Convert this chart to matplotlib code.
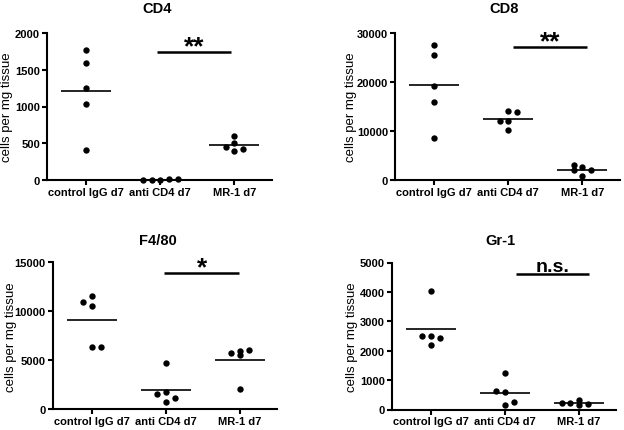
import numpy as np
import matplotlib
matplotlib.use("Agg")
import matplotlib.pyplot as plt

plt.rcParams['font.family'] = ['Liberation Sans', 'DejaVu Sans']

# ---------------- data ----------------
categories = ['control IgG d7', 'anti CD4 d7', 'MR-1 d7']

cd4_control = [1770, 1590, 1245, 1035, 405]
cd4_anti = [6, 3, 10, 4, 8]
cd4_mr1 = [595, 395, 450, 420, 500]

cd8_control = [27540, 25600, 19260, 15980, 8550]
cd8_anti = [14140, 12090, 12090, 13810, 10120]
cd8_mr1 = [2660, 2960, 2050, 2050, 760]

f480_control = [11590, 10530, 10910, 6370, 6370]
f480_anti = [4700, 1740, 740, 1530, 1160]
f480_mr1 = [2110, 5490, 5960, 5760, 6070]

gr1_control = [4020, 2510, 2510, 2440, 2210]
gr1_anti = [1235, 590, 625, 160, 260]
gr1_mr1 = [160, 215, 195, 230, 340]

titles = ['CD4', 'CD8', 'F4/80', 'Gr-1']
y_max = [2000, 30000, 15000, 5000]
y_step = [500, 10000, 5000, 1000]
sig_labels = ['**', '**', '*', 'n.s.']
sig_y = [1745, 27130, 13870, 4606]

# ---------------- layout ----------------
W, H = 624, 431
AX_W, AX_H = 224.5, 147.0
XLIM = (-0.53, 2.5)
# left, top (pixels)
ax_pos = [(47, 34), (395, 34), (52.5, 263.3), (391.7, 263.5)]
title_x = [0.49, 0.484, 0.469, 0.483]
title_pad = [14.9, 14.9, 13.2, 13.2]
ylabel_x = [-0.15, -0.168, -0.16, -0.148]
sig_span = [(0.957, 1.955), (1.065, 2.06), (0.98, 1.99), (1.148, 2.135)]
sig_off = [-1.0, -1.0, -1.0, 2.0]
sig_size = [19, 19, 19, 14]

STEP = 0.118       # horizontal spread step (category units)
THR_PX = 4.35      # vertical closeness (px) that forces spreading
HALF = 0.337       # half width of mean line


def swarm_offsets(values, thr):
    placed = []
    slots = []
    toggle = 0
    for v in values:
        k = 0
        chosen = None
        while chosen is None:
            if k == 0:
                cands = [0]
            else:
                cands = [-k, k] if toggle == 0 else [k, -k]
            for s in cands:
                if all(abs(v - pv) >= thr for ps, pv in placed if ps == s):
                    chosen = s
                    break
            k += 1
        if chosen != 0:
            toggle ^= 1
        placed.append((chosen, v))
        slots.append(chosen)
    return np.array(slots) * STEP


groups = [
    [cd4_control, cd4_anti, cd4_mr1],
    [cd8_control, cd8_anti, cd8_mr1],
    [f480_control, f480_anti, f480_mr1],
    [gr1_control, gr1_anti, gr1_mr1],
]

fig = plt.figure(figsize=(W / 100, H / 100), dpi=100)

for p in range(4):
    lx, ty = ax_pos[p]
    ax = fig.add_axes([lx / W, 1 - (ty + AX_H) / H, AX_W / W, AX_H / H])
    ymax = y_max[p]
    thr = THR_PX / AX_H * ymax
    for i, vals in enumerate(groups[p]):
        vals = np.asarray(vals, dtype=float)
        xs = i + swarm_offsets(vals, thr)
        ax.scatter(xs, vals, s=21, color='black', zorder=3, clip_on=False,
                   linewidths=0)
        m = vals.mean()
        ax.plot([i - HALF, i + HALF], [m, m], color='black', lw=1.2,
                zorder=2, solid_capstyle='butt')

    ax.set_xlim(*XLIM)
    ax.set_ylim(0, ymax)
    ax.set_xticks(range(len(categories)))
    ax.set_xticklabels(categories)
    ax.set_yticks(np.arange(0, ymax + 1, y_step[p]))
    for s in ['top', 'right']:
        ax.spines[s].set_visible(False)
    for s in ['left', 'bottom']:
        ax.spines[s].set_linewidth(1.5)
    ax.tick_params(direction='out', length=3.5, width=1.5, labelsize=8,
                   pad=1.5)
    for lab in ax.get_xticklabels() + ax.get_yticklabels():
        lab.set_fontweight('bold')

    ax.set_title(titles[p], fontsize=10.5, fontweight='bold',
                 pad=title_pad[p], x=title_x[p])
    ax.set_ylabel('cells per mg tissue', fontsize=9.5)
    ax.yaxis.set_label_coords(ylabel_x[p], 0.5)

    x0, x1 = sig_span[p]
    ax.plot([x0, x1], [sig_y[p], sig_y[p]], color='black', lw=1.8,
            clip_on=False, solid_capstyle='butt')
    ax.annotate(sig_labels[p], xy=((x0 + x1) / 2, sig_y[p]),
                xytext=(0, sig_off[p]), textcoords='offset points',
                ha='center', va='baseline', fontsize=sig_size[p],
                fontweight='bold', annotation_clip=False)

fig.savefig('out.png', dpi=100)
